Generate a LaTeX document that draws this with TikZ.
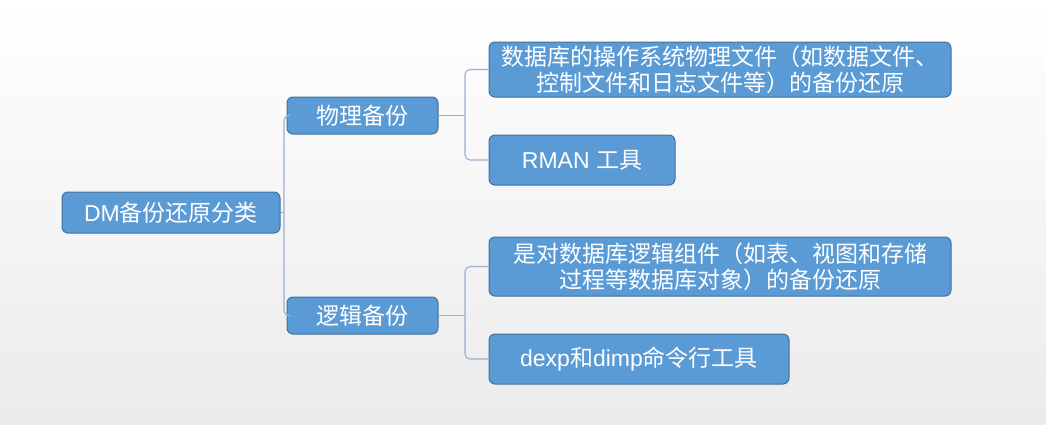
\documentclass[tikz,border=0pt]{standalone}
\usepackage{fontspec}
\setmainfont{Noto Sans CJK SC}
\newfontfamily\lat{Liberation Sans}
\definecolor{boxfill}{HTML}{5B9BD5}
\definecolor{boxline}{HTML}{41719C}
\definecolor{connline}{HTML}{9AB0CC}
\definecolor{bgbottom}{HTML}{EBEBEB}
\begin{document}
\begin{tikzpicture}[x=1pt,y=-1pt,
  box/.style={draw=boxline,fill=boxfill,line width=1pt,rounded corners=6pt,
    text=white,font=\fontsize{23}{26}\selectfont,align=center,inner sep=0pt},
  conn/.style={draw=connline,line width=1.1pt,rounded corners=5pt}]
\shade[top color=white,bottom color=bgbottom] (0,0) rectangle (1046,424);
\useasboundingbox (0,0) rectangle (1046,424);
\node[box,minimum width=218pt,minimum height=41pt] (root) at (171,212.5) {{\lat DM}备份还原分类};
\node[box,minimum width=151pt,minimum height=37pt] (phy) at (362.5,115.5) {物理备份};
\node[box,minimum width=151pt,minimum height=37pt] (log) at (362.5,315.5) {逻辑备份};
\node[box,minimum width=462pt,minimum height=55pt] (l1) at (720,69.5) {数据库的操作系统物理文件（如数据文件、\\控制文件和日志文件等）的备份还原};
\node[box,minimum width=186pt,minimum height=50pt] (l2) at (582,160) {{\lat RMAN }工具};
\node[box,minimum width=462pt,minimum height=59pt] (l3) at (720,266.5) {是对数据库逻辑组件（如表、视图和存储\\过程等数据库对象）的备份还原};
\node[box,minimum width=300pt,minimum height=50pt] (l4) at (639,359) {{\lat dexp}和{\lat dimp}命令行工具};
\coordinate (jr) at (284,212.5);
\coordinate (jp) at (465,115.5);
\coordinate (jl) at (465,315.5);
\draw[conn] (root.east) -- (jr);
\draw[conn] (jr) |- (phy.west);
\draw[conn] (jr) |- (log.west);
\draw[conn] (phy.east) -- (jp);
\draw[conn] (jp) |- (l1.west);
\draw[conn] (jp) |- (l2.west);
\draw[conn] (log.east) -- (jl);
\draw[conn] (jl) |- (l3.west);
\draw[conn] (jl) |- (l4.west);
\end{tikzpicture}
\end{document}
